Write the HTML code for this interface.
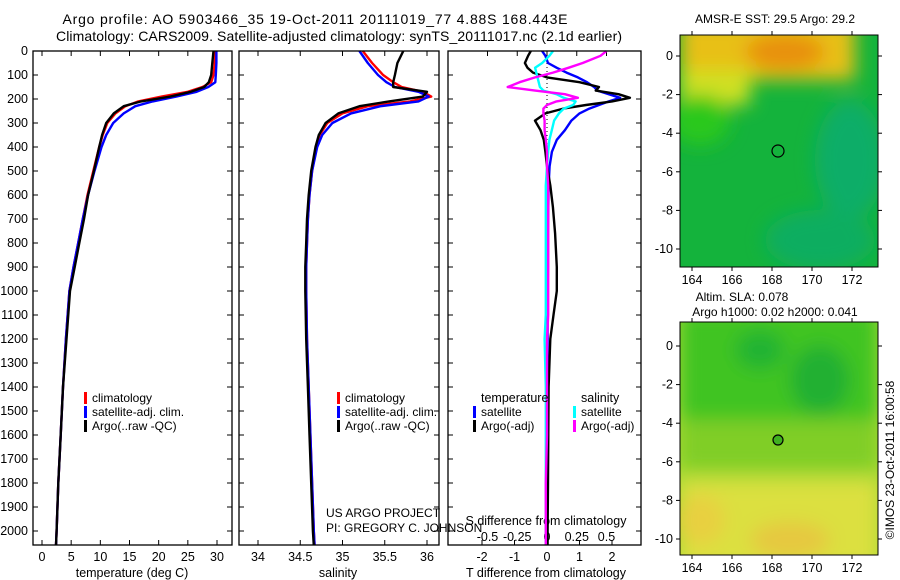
<!DOCTYPE html>
<html><head><meta charset="utf-8"><style>
body{margin:0;background:#fff;}
svg{display:block;font-family:"Liberation Sans",sans-serif;}
text{fill:#000;}
</style></head><body>
<svg id="fig" width="900" height="580" viewBox="0 0 900 580">
<defs>
<filter id="blur" x="-20%" y="-20%" width="140%" height="140%"><feGaussianBlur stdDeviation="9"/></filter>
<clipPath id="m1clip"><rect x="680" y="35" width="198" height="232"/></clipPath>
<clipPath id="m2clip"><rect x="680" y="322" width="198" height="233"/></clipPath>
</defs>
<text x="315" y="24" font-size="14" text-anchor="middle" textLength="505" lengthAdjust="spacing">Argo profile: AO 5903466_35 19-Oct-2011 20111019_77 4.88S 168.443E</text>
<text x="339" y="41" font-size="14" text-anchor="middle" textLength="566" lengthAdjust="spacing">Climatology: CARS2009. Satellite-adjusted climatology: synTS_20111017.nc (2.1d earlier)</text>

<!-- Map 1 -->
<g>
<text x="775" y="23" font-size="12" text-anchor="middle">AMSR-E SST: 29.5 Argo: 29.2</text>
<g clip-path="url(#m1clip)">
<rect x="680" y="35" width="198" height="232" fill="#14b33c"/>
<g filter="url(#blur)">
<rect x="680" y="20" width="175" height="60" fill="#e8c018"/>
<rect x="680" y="70" width="70" height="35" fill="#cfe020"/>
<ellipse cx="785" cy="52" rx="40" ry="18" fill="#e89010"/>
<ellipse cx="700" cy="120" rx="30" ry="25" fill="#2cc81a"/>
<ellipse cx="850" cy="160" rx="35" ry="60" fill="#10ad68"/>
<ellipse cx="820" cy="240" rx="55" ry="30" fill="#10ad60"/>
</g>
<circle cx="778" cy="151" r="6" fill="none" stroke="#000" stroke-width="1.2"/>
</g>
<rect x="680" y="35" width="198" height="232" fill="none" stroke="#000"/>
</g>

<!-- Map 2 -->
<g>
<text x="742" y="301" font-size="12" text-anchor="middle">Altim. SLA: 0.078</text>
<text x="775" y="316" font-size="12" text-anchor="middle">Argo h1000: 0.02 h2000: 0.041</text>
<g clip-path="url(#m2clip)">
<rect x="680" y="322" width="198" height="233" fill="#a8da34"/>
<g filter="url(#blur)">
<rect x="680" y="310" width="198" height="110" fill="#40c422"/>
<rect x="680" y="420" width="198" height="50" fill="#80ce28"/>
<rect x="680" y="480" width="198" height="90" fill="#dce040"/>
<ellipse cx="820" cy="380" rx="30" ry="35" fill="#20b030"/>
<ellipse cx="760" cy="350" rx="25" ry="20" fill="#20b430"/>
<ellipse cx="700" cy="520" rx="25" ry="25" fill="#e8d040"/>
<ellipse cx="790" cy="540" rx="40" ry="18" fill="#e6c840"/>
</g>
<circle cx="778" cy="440" r="5" fill="#40b020" stroke="#000" stroke-width="1.2"/>
</g>
<rect x="680" y="322" width="198" height="233" fill="none" stroke="#000"/>
</g>
<text transform="translate(894,460) rotate(-90)" font-size="12" text-anchor="middle">©IMOS 23-Oct-2011 16:00:58</text>
<text x="326" y="517" font-size="12">US ARGO PROJECT</text>
<text x="326" y="532" font-size="12">PI: GREGORY C. JOHNSON</text>
<g id="plots"></g>
</svg>
<script>
// ---- data ----
const depths = [0,50,100,130,150,170,190,210,230,260,300,350,400,500,600,700,800,900,1000,1200,1400,1600,1800,2000,2060];
const tempClim = [29.7,29.6,29.4,29.0,27.5,25.0,20.5,16.5,14.3,12.6,11.2,10.4,9.8,8.8,7.8,7.0,6.2,5.4,4.7,4.1,3.6,3.2,2.8,2.5,2.4];
const tempSat  = [29.9,29.9,29.8,29.7,28.5,26.5,23.0,19.0,16.0,14.0,12.2,11.0,10.2,9.0,7.9,7.0,6.2,5.4,4.7,4.1,3.6,3.2,2.8,2.5,2.4];
const tempArgo = [29.4,29.2,29.0,28.6,27.8,25.5,22.0,17.0,14.0,12.3,11.0,10.3,9.8,8.9,7.9,7.2,6.4,5.6,4.8,4.2,3.6,3.2,2.8,2.5,2.4];
const salClim = [35.24,35.35,35.48,35.6,35.7,35.95,36.05,35.8,35.3,35.0,34.82,34.73,34.69,34.64,34.61,34.59,34.58,34.57,34.57,34.58,34.6,34.62,34.64,34.66,34.67];
const salSat  = [35.2,35.3,35.42,35.52,35.62,35.9,36.02,35.9,35.45,35.1,34.88,34.76,34.7,34.64,34.61,34.59,34.58,34.57,34.57,34.58,34.6,34.62,34.64,34.66,34.67];
const salArgo = [35.72,35.65,35.62,35.6,35.6,36.0,35.95,35.55,35.2,34.95,34.8,34.72,34.68,34.63,34.6,34.58,34.57,34.56,34.56,34.57,34.59,34.61,34.63,34.65,34.66];
const diffDepths = [0,20,50,70,90,110,130,150,165,180,195,210,225,240,260,290,330,370,420,480,560,650,760,900,1000,1100,1200,1400,1600,1800,2000,2060];
const dTArgo = [-0.5,-0.58,-0.68,-0.6,-0.43,0.0,1.0,1.6,1.5,2.2,2.55,2.0,1.2,0.5,-0.05,-0.37,-0.2,-0.1,-0.05,0,0.1,0.18,0.25,0.3,0.3,0.2,0.1,0.05,0.04,0.03,0.02,0.02];
const dTSat  = [-0.15,-0.05,0.03,0.3,0.6,0.95,1.23,1.45,1.55,1.9,2.25,1.9,1.6,1.3,1.0,0.75,0.55,0.3,0.15,0.08,0.05,0.04,0.03,0.03,0.02,0.02,0.02,0.01,0.01,0.0,0.0,0.0];
const dSSat  = [0.05,0.02,-0.04,-0.1,-0.09,-0.08,-0.07,-0.06,-0.03,0.08,0.14,0.24,0.22,0.14,0.1,0.06,0.04,0.02,0.01,0,-0.01,-0.01,-0.01,-0.01,-0.01,-0.01,-0.02,-0.01,-0.01,-0.01,-0.01,-0.01];
const dSArgo = [0.5,0.45,0.3,0.18,0.05,-0.1,-0.23,-0.33,-0.1,0.15,0.26,0.08,0.0,-0.03,-0.03,-0.02,-0.02,-0.01,0,0,0.01,0.01,0.01,0.01,0.01,0.01,0.0,0.0,0.0,-0.01,-0.01,-0.01];
const depthTicks = [0,100,200,300,400,500,600,700,800,900,1000,1100,1200,1300,1400,1500,1600,1700,1800,1900,2000];
const tempTicks = [0,5,10,15,20,25,30];
const salTicks = [34,34.5,35,35.5,36];
const salTickLabels = ["34","34.5","35","35.5","36"];
const dTTicks = [-2,-1,0,1,2];
const dSTicks = [-0.5,-0.25,0,0.25,0.5];
const dSTickLabels = ["-0.5","-0.25","0","0.25","0.5"];
const mapLons = [164,166,168,170,172];
const mapLats = [0,-2,-4,-6,-8,-10];

// ---- helpers ----
const NS="http://www.w3.org/2000/svg";
const root=document.getElementById('plots');
function mk(tag,attrs,parent){const e=document.createElementNS(NS,tag);for(const k in attrs)e.setAttribute(k,attrs[k]);(parent||root).appendChild(e);return e;}
const TOP=51, BOT=545;
const yD = d => TOP + d*0.24;
function lin(d0,d1,r0,r1){return v=>r0+(v-d0)*(r1-r0)/(d1-d0);}

function panel(name,x0,x1){
  const g=mk('g',{});
  
  
  depthTicks.forEach(d=>{const y=yD(d);
    mk('line',{x1:x0,x2:x0+5,y1:y,y2:y,stroke:'#000'},g);
    mk('line',{x1:x1-5,x2:x1,y1:y,y2:y,stroke:'#000'},g);});
  return g;
}
function frame(g,x0,x1){
  const r=mk('rect',{x:x0,y:TOP,width:x1-x0,height:BOT-TOP,fill:'none',stroke:'#000','stroke-width':1.3},g);
  
  
}
function line(g,xs,ds,sx,color,name,w){
  const pts=xs.map((v,i)=>sx(v).toFixed(1)+','+yD(ds[i]).toFixed(1)).join(' ');
  const p=mk('polyline',{points:pts,fill:'none',stroke:color,'stroke-width':w||2.4,'stroke-linejoin':'round'},g);
  
  
}
function xticks(g,ticks,labels,sx,yLab,top){
  ticks.forEach((t,i)=>{const x=sx(t);
    mk('line',{x1:x,x2:x,y1:BOT,y2:BOT-5,stroke:'#000'},g);
    if(top) mk('line',{x1:x,x2:x,y1:TOP,y2:TOP+5,stroke:'#000'},g);
    const tx=mk('text',{x:x,y:yLab,'font-size':12.5,'text-anchor':'middle'},g);
    tx.textContent=labels?labels[i]:String(t);
    
    
  });
}
function legendItem(g,x,y,color,label){
  mk('rect',{x:x,y:y-10,width:3,height:12,fill:color},g);
  const t=mk('text',{x:x+8,y:y,'font-size':12},g);
  t.textContent=label;
  
  
}
function label(g,x,y,txt,name,anchor){
  const t=mk('text',{x:x,y:y,'font-size':12.5,'text-anchor':anchor||'middle'},g);
  t.textContent=txt;
  
  
}

// ---- panel 1: temperature ----
{const x0=33,x1=232; const sx=lin(0,30,42,217);
 const g=panel('temperature-panel',x0,x1);
 depthTicks.forEach(d=>label(g,28,yD(d)+4,String(d),'y-tick-label','end'));
 xticks(g,tempTicks,null,sx,561,true);
 label(g,132,577,'temperature (deg C)','x-axis-title');
 line(g,tempClim,depths,sx,'#ff0000','climatology-temp-line');
 line(g,tempSat,depths,sx,'#0000ff','satellite-temp-line');
 line(g,tempArgo,depths,sx,'#000000','argo-temp-line');
 legendItem(g,84,402,'#ff0000','climatology');
 legendItem(g,84,416,'#0000ff','satellite-adj. clim.');
 legendItem(g,84,430,'#000000','Argo(..raw -QC)');
 frame(g,x0,x1);}

// ---- panel 2: salinity ----
{const x0=239,x1=439; const sx=lin(34,36,258,427);
 const g=panel('salinity-panel',x0,x1);
 xticks(g,salTicks,salTickLabels,sx,561,true);
 label(g,338,577,'salinity','x-axis-title');
 line(g,salClim,depths,sx,'#ff0000','climatology-salinity-line');
 line(g,salSat,depths,sx,'#0000ff','satellite-salinity-line');
 line(g,salArgo,depths,sx,'#000000','argo-salinity-line');
 legendItem(g,337,402,'#ff0000','climatology');
 legendItem(g,337,416,'#0000ff','satellite-adj. clim.');
 legendItem(g,337,430,'#000000','Argo(..raw -QC)');
 frame(g,x0,x1);}

// ---- panel 3: differences ----
{const x0=448,x1=641; const sT=lin(0,1,547,579.5); const sS=lin(0,1,547,666);
 const g=panel('difference-panel',x0,x1);
 xticks(g,dTTicks,null,sT,561,false);
 dSTicks.forEach((t,i)=>{const x=sS(t);
   mk('line',{x1:x,x2:x,y1:TOP,y2:TOP+5,stroke:'#000'},g);
   label(g,x,541,dSTickLabels[i],'s-tick-label');});
 label(g,546,525,'S difference from climatology','s-axis-title');
 label(g,546,577,'T difference from climatology','t-axis-title');
 mk('line',{x1:547,x2:547,y1:TOP,y2:yD(450),stroke:'#000','stroke-dasharray':'1,3'},g);
 line(g,dTSat,diffDepths,sT,'#0000ff','t-satellite-diff-line');
 line(g,dTArgo,diffDepths,sT,'#000000','t-argo-diff-line');
 line(g,dSSat,diffDepths,sS,'#00ffff','s-satellite-diff-line');
 line(g,dSArgo,diffDepths,sS,'#ff00ff','s-argo-diff-line');
 label(g,481,402,'temperature','legend-header-temperature','start');
 label(g,581,402,'salinity','legend-header-salinity','start');
 legendItem(g,473,416,'#0000ff','satellite');
 legendItem(g,473,430,'#000000','Argo(-adj)');
 legendItem(g,573,416,'#00ffff','satellite');
 legendItem(g,573,430,'#ff00ff','Argo(-adj)');
 frame(g,x0,x1);}

// ---- map axes ----
function mapAxes(name,top,bottom,lat0y,xLabY){
  const g=mk('g',{});
  
  
  const sx=lin(164,172,692,852); const sy=lin(0,-10,lat0y,lat0y+193);
  mapLons.forEach(l=>{const x=sx(l);
    mk('line',{x1:x,x2:x,y1:bottom,y2:bottom+4,stroke:'#000'},g);
    mk('line',{x1:x,x2:x,y1:top,y2:top-4,stroke:'#000'},g);
    label(g,x,xLabY,String(l),'lon-tick-label');});
  mapLats.forEach(l=>{const y=sy(l);
    mk('line',{x1:676,x2:680,y1:y,y2:y,stroke:'#000'},g);
    mk('line',{x1:878,x2:882,y1:y,y2:y,stroke:'#000'},g);
    label(g,673,y+4,String(l),'lat-tick-label','end');});
}
mapAxes('sst-map-axes',35,267,56,284);
mapAxes('sla-map-axes',322,555,346,572);
</script>
</body></html>
